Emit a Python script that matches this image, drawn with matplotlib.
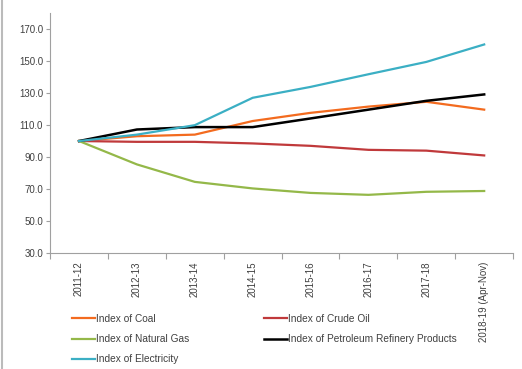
import matplotlib
matplotlib.use("Agg")
import matplotlib.pyplot as plt
from matplotlib.lines import Line2D

years = ["2011-12", "2012-13", "2013-14", "2014-15", "2015-16",
         "2016-17", "2017-18", "2018-19 (Apr-Nov)"]

coal = [100, 103.0, 104.0, 112.5, 117.6, 121.5, 124.5, 119.6]
crude_oil = [100, 99.5, 99.5, 98.5, 97.0, 94.5, 94.0, 91.0]
natural_gas = [100, 85.4, 74.5, 70.4, 67.6, 66.4, 68.3, 68.8]
petroleum = [100, 107.2, 108.7, 108.7, 114.1, 119.6, 125.1, 129.1]
electricity = [100, 104.0, 109.9, 127.0, 133.8, 141.7, 149.4, 160.3]

yticks = [30, 50, 70, 90, 110, 130, 150, 170]

plt.rcParams['font.family'] = ['Liberation Sans', 'DejaVu Sans']
txt = '#404040'

fig = plt.figure(figsize=(5.22, 3.69), dpi=100)
ax = fig.add_axes([0.096, 0.314, 0.887, 0.651])

x = list(range(len(years)))
l_coal, = ax.plot(x, coal, color='#F36B1F', lw=1.6, label='Index of Coal')
l_crude, = ax.plot(x, crude_oil, color='#C0393B', lw=1.6, label='Index of Crude Oil')
l_gas, = ax.plot(x, natural_gas, color='#94B849', lw=1.6, label='Index of Natural Gas')
l_pet, = ax.plot(x, petroleum, color='#000000', lw=1.8, label='Index of Petroleum Refinery Products')
l_ele, = ax.plot(x, electricity, color='#3BAFC4', lw=1.6, label='Index of Electricity')

ax.set_xlim(-0.5, len(years) - 0.5)
ax.set_ylim(30, 180)
ax.set_yticks(yticks)
ax.set_yticklabels(['%.1f' % v for v in yticks], fontsize=7, color=txt)
ax.tick_params(axis='y', length=3, color='#A0A0A0', pad=2)

# category boundaries get the tick marks, labels sit in the middle
ax.set_xticks([i - 0.5 for i in range(len(years) + 1)])
ax.set_xticklabels([])
ax.tick_params(axis='x', which='major', length=4, color='#A0A0A0')
ax.set_xticks(x, minor=True)
ax.set_xticklabels(years, minor=True, rotation=90, fontsize=7, color=txt)
ax.tick_params(axis='x', which='minor', length=0, pad=6)

for s in ['top', 'right']:
    ax.spines[s].set_visible(False)
for s in ['left', 'bottom']:
    ax.spines[s].set_color('#A0A0A0')
    ax.spines[s].set_linewidth(0.8)

handles = [l_coal, l_gas, l_ele, l_crude, l_pet]
leg = fig.legend(handles=handles, labels=[h.get_label() for h in handles],
                 ncol=2, loc='upper left', bbox_to_anchor=(0.13, 0.16),
                 frameon=False, fontsize=7.3, handlelength=2.3, handletextpad=0.1,
                 columnspacing=7.3, labelspacing=1.0, borderaxespad=0)
for t in leg.get_texts():
    t.set_color(txt)

# chart border on the left edge
fig.add_artist(Line2D([0.004, 0.004], [0, 1], color='#BBBBBB', lw=1.5,
                      transform=fig.transFigure))

fig.savefig('out.png', dpi=100)
